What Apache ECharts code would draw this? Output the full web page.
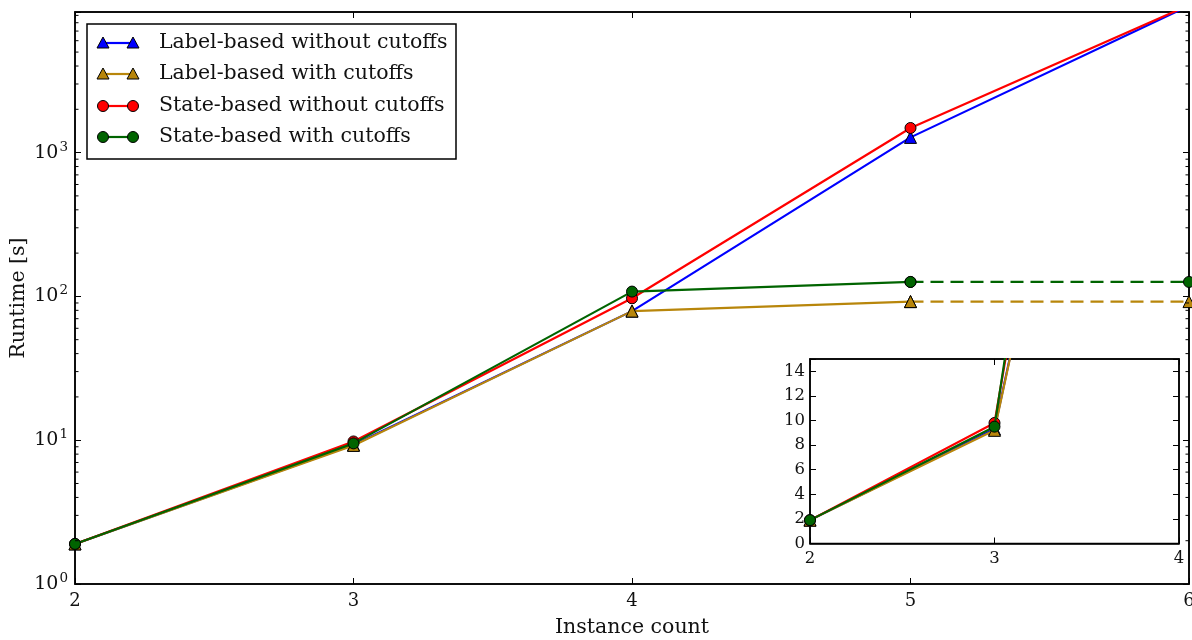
<!DOCTYPE html>
<html>
<head>
<meta charset="utf-8">
<script src="https://cdn.jsdelivr.net/npm/echarts@6/dist/echarts.min.js"></script>
<style>
html,body{margin:0;padding:0;background:#fff;}
#chart{width:1192px;height:640px;}
</style>
</head>
<body>
<div id="chart"></div>
<script>
// ---- data ----
var instanceCounts = [2, 3, 4, 5, 6];
var seriesNames = ['Label-based without cutoffs', 'Label-based with cutoffs', 'State-based without cutoffs', 'State-based with cutoffs'];
var labelNoCutoff = [1.9, 9.3, 79, 1276, 10500];
var labelCutoff = [1.9, 9.2, 79, 92];
var labelCutoffTimeout = [92, 92];          // dashed continuation, x = 5..6
var stateNoCutoff = [1.9, 9.8, 97, 1483, 10600];
var stateCutoff = [1.9, 9.5, 108, 126];
var stateCutoffTimeout = [126, 126];        // dashed continuation, x = 5..6
var timeoutX = [5, 6];
var yMinorTicks = [2,3,4,5,6,7,8,9,20,30,40,50,60,70,80,90,200,300,400,500,600,700,800,900,2000,3000,4000,5000,6000,7000,8000,9000];
var colors = ['#0000ff', '#b8860b', '#ff0000', '#006400'];
var symbols = ['triangle', 'triangle', 'circle', 'circle'];

function pairs(xs, ys) { return ys.map(function (v, i) { return [xs[i], v]; }); }

var FONT = 'DejaVu Serif';
var TXT = '#111';

var mainData = [labelNoCutoff, labelCutoff, stateNoCutoff, stateCutoff];

function lineSeries(i, gridIdx, dataArr, dashed, showSym) {
  return {
    type: 'line',
    name: seriesNames[i],
    xAxisIndex: gridIdx === 0 ? 0 : 2,
    yAxisIndex: gridIdx === 0 ? 0 : 2,
    data: dataArr,
    symbol: symbols[i],
    symbolSize: symbols[i] === 'circle' ? 11 : 12,
    showSymbol: showSym,
    showAllSymbol: true,
    clip: true,
    silent: true,
    animation: false,
    lineStyle: { color: colors[i], width: 2.2, type: dashed ? [13, 7] : 'solid' },
    itemStyle: { color: colors[i], borderColor: '#000', borderWidth: 1, opacity: 1 },
    z: 2 + i
  };
}

var series = [];
for (var i = 0; i < 4; i++) {
  series.push(lineSeries(i, 0, pairs(instanceCounts, mainData[i]), false, true));
}
series.push(lineSeries(1, 0, pairs(timeoutX, labelCutoffTimeout), true, true));
series.push(lineSeries(3, 0, pairs(timeoutX, stateCutoffTimeout), true, true));
series[4].z = 3; series[5].z = 5;
for (var j = 0; j < 4; j++) {
  var s = lineSeries(j, 1, pairs(instanceCounts, mainData[j]), false, true);
  s.z = 12 + j;
  series.push(s);
}
// minor ticks on the main log axis (left & right, inward)
series.push({
  type: 'custom',
  xAxisIndex: 0, yAxisIndex: 0,
  silent: true, animation: false, clip: false, z: 20,
  data: yMinorTicks.map(function (v) { return [2, v]; }),
  renderItem: function (params, api) {
    var v = api.value(1);
    var pl = api.coord([2, v]);
    var pr = api.coord([6, v]);
    return {
      type: 'group',
      children: [
        { type: 'line', shape: { x1: pl[0], y1: pl[1], x2: pl[0] + 3.5, y2: pl[1] }, style: { stroke: '#000', lineWidth: 1 } },
        { type: 'line', shape: { x1: pr[0], y1: pr[1], x2: pr[0] - 3.5, y2: pr[1] }, style: { stroke: '#000', lineWidth: 1 } }
      ]
    };
  }
});

function powLabel(v) {
  var k = Math.round(Math.log10(v));
  if (Math.abs(Math.pow(10, k) - v) > 1e-6 * v) return '';
  return '{b|10}{s|' + k + '}';
}

// legend (drawn as graphic)
var legendChildren = [];
var lgX = 87, lgY = 24, lgW = 369, lgH = 135;
legendChildren.push({ type: 'rect', shape: { x: lgX, y: lgY, width: lgW, height: lgH }, style: { fill: '#fff', stroke: '#000', lineWidth: 1.5 } });
var rowY = [43, 74, 106, 137];
for (var r = 0; r < 4; r++) {
  var y = rowY[r];
  legendChildren.push({ type: 'line', shape: { x1: 103, y1: y, x2: 133, y2: y }, style: { stroke: colors[r], lineWidth: 2.2 } });
  [103, 133].forEach(function (mx) {
    if (symbols[r] === 'circle') {
      legendChildren.push({ type: 'circle', shape: { cx: mx, cy: y, r: 5.5 }, style: { fill: colors[r], stroke: '#000', lineWidth: 1 } });
    } else {
      legendChildren.push({ type: 'polygon', shape: { points: [[mx, y - 6], [mx + 6, y + 5], [mx - 6, y + 5]] }, style: { fill: colors[r], stroke: '#000', lineWidth: 1 } });
    }
  });
  legendChildren.push({ type: 'text', x: 159, y: y, style: { text: seriesNames[r], font: '20.5px "' + FONT + '"', fill: TXT, verticalAlign: 'middle', textAlign: 'left' } });
}

var tickLabelRich = {
  b: { fontFamily: FONT, fontSize: 19, color: TXT },
  s: { fontFamily: FONT, fontSize: 13.5, color: TXT, padding: [0, 0, 11, 1] }
};

var axisLine = { show: true, onZero: false, lineStyle: { color: '#000', width: 1.5 } };
var tickIn = { show: true, inside: true, length: 6, lineStyle: { color: '#000' } };

var option = {
  backgroundColor: '#fff',
  animation: false,
  grid: [
    { left: 75, right: 3, top: 12, bottom: 56, show: true, borderColor: '#000', borderWidth: 1.5, backgroundColor: 'transparent', containLabel: false, outerBoundsMode: 'none' },
    { left: 810, right: 13, top: 359, bottom: 96.5, show: true, borderColor: '#000', borderWidth: 1.5, backgroundColor: '#fff', z: 10, containLabel: false, outerBoundsMode: 'none' }
  ],
  xAxis: [
    { gridIndex: 0, type: 'value', min: 2, max: 6, interval: 1, position: 'bottom',
      name: 'Instance count', nameLocation: 'middle', nameGap: 33, nameMoveOverlap: false,
      nameTextStyle: { fontFamily: FONT, fontSize: 20.5, color: TXT },
      axisLine: axisLine, axisTick: tickIn,
      axisLabel: { fontFamily: FONT, fontSize: 18, color: TXT, margin: 8 },
      splitLine: { show: false } },
    { gridIndex: 0, type: 'value', min: 2, max: 6, interval: 1, position: 'top',
      axisLine: axisLine, axisTick: tickIn,
      axisLabel: { show: false }, splitLine: { show: false } },
    { gridIndex: 1, type: 'value', min: 2, max: 4, interval: 1, position: 'bottom', z: 11,
      axisLine: axisLine, axisTick: tickIn,
      axisLabel: { fontFamily: FONT, fontSize: 16.5, color: TXT, margin: 7 },
      splitLine: { show: false } },
    { gridIndex: 1, type: 'value', min: 2, max: 4, interval: 1, position: 'top', z: 11,
      axisLine: axisLine, axisTick: tickIn,
      axisLabel: { show: false }, splitLine: { show: false } }
  ],
  yAxis: [
    { gridIndex: 0, type: 'log', logBase: 10, min: 1, max: 9500, position: 'left',
      name: 'Runtime [s]', nameLocation: 'middle', nameGap: 46, nameRotate: 90, nameMoveOverlap: false,
      nameTextStyle: { fontFamily: FONT, fontSize: 20.5, color: TXT },
      axisLine: axisLine, axisTick: tickIn,
      axisLabel: { margin: 7, formatter: powLabel, rich: tickLabelRich },
      splitLine: { show: false }, minorTick: { show: false } },
    { gridIndex: 0, type: 'log', logBase: 10, min: 1, max: 9500, position: 'right',
      axisLine: axisLine, axisTick: tickIn,
      axisLabel: { show: false }, splitLine: { show: false } },
    { gridIndex: 1, type: 'value', min: 0, max: 15, interval: 2, position: 'left', z: 11,
      axisLine: axisLine, axisTick: tickIn,
      axisLabel: { fontFamily: FONT, fontSize: 16.5, color: TXT, margin: 5,
        formatter: function (v) { return v % 2 === 0 ? String(v) : ''; } },
      splitLine: { show: false } },
    { gridIndex: 1, type: 'value', min: 0, max: 15, interval: 2, position: 'right', z: 11,
      axisLine: axisLine, axisTick: tickIn,
      axisLabel: { show: false }, splitLine: { show: false } }
  ],
  graphic: [{ type: 'group', z: 100, children: legendChildren }],
  series: series
};

var chart = echarts.init(document.getElementById('chart'), null, { renderer: 'canvas' });
chart.setOption(option);
</script>
</body>
</html>
